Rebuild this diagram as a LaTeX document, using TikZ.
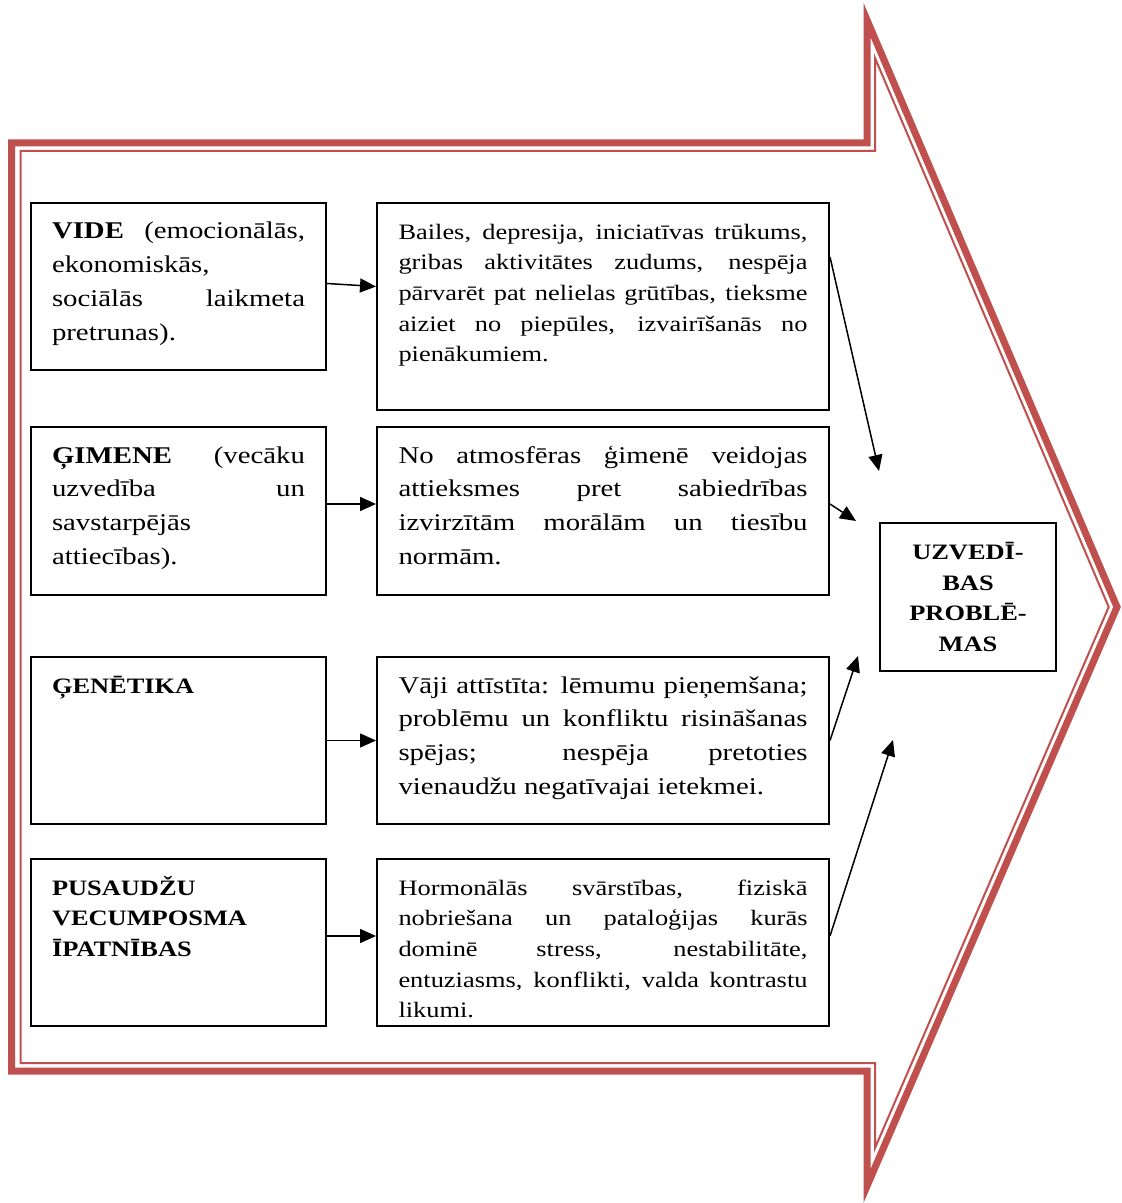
\documentclass[tikz,border=0pt]{standalone}
\usepackage{fontspec}
\setmainfont{Liberation Serif}[FakeStretch=1.2]
\usetikzlibrary{arrows.meta}
\definecolor{arrowred}{HTML}{C0504D}
\newcommand{\smalltxt}{\fontsize{11}{15.35}\selectfont}
\newcommand{\bigtxt}{\fontsize{12}{16.85}\selectfont}
\newcommand{\boxtext}[3]{\parbox[c][#1][t]{#2}{\sloppy\rule{0pt}{12pt}#3}}
\tikzset{
	leftbox/.style={draw, line width=1pt, anchor=north west, inner xsep=10.5pt, inner ysep=6pt},
	rightbox/.style={draw, line width=1pt, anchor=north west, inner xsep=10.75pt, inner ysep=6pt},
	resultbox/.style={draw, line width=1pt, anchor=north west, minimum width=88pt, minimum height=74pt, align=center, font=\smalltxt\bfseries},
	conn/.style={line width=0.75pt, -{Triangle[length=8pt,width=7pt]}},
	outerline/.style={draw=arrowred, line width=3.5pt, line join=miter},
	innerline/.style={draw=arrowred, line width=1pt, line join=miter}
}
\begin{document}
\begin{tikzpicture}[x=0.5pt, y=-0.5pt]
			%%%%% START %%%%%
			\useasboundingbox (0,0) rectangle (1121,1203);
			
			\draw[outerline] (11.5,143) -- (867,143) -- (867,20) -- (1117,607) -- (867,1186) -- (867,1071) -- (11.5,1071) -- cycle;
			\draw[innerline] (20.5,151) -- (875,151) -- (875,58) -- (1108.7,607) -- (875,1148) -- (875,1063) -- (20.5,1063) -- cycle;
			
			\node[leftbox, font=\bigtxt] (vide) at (30,202) {\boxtext{71.5pt}{126.5pt}{\textbf{VIDE} (emocionālās,\linebreak ekonomiskās,\\ sociālās laikmeta\linebreak pretrunas).}};
			\node[leftbox, font=\bigtxt] (gimene) at (30,426) {\boxtext{72pt}{126.5pt}{\textbf{ĢIMENE} (vecāku\linebreak uzvedība un\linebreak savstarpējās\\ attiecības).}};
			\node[leftbox, font=\smalltxt] (genetika) at (30,656) {\boxtext{71.5pt}{126.5pt}{\textbf{ĢENĒTIKA}}};
			\node[leftbox, font=\smalltxt] (pusaudzu) at (30,858) {\boxtext{71.5pt}{126.5pt}{\textbf{PUSAUDŽU\\ VECUMPOSMA\\ ĪPATNĪBAS}}};
			
			\node[rightbox, font=\smalltxt] (bailes) at (376,202) {\boxtext{91.5pt}{204.5pt}{Bailes, depresija, iniciatīvas trūkums,\linebreak gribas aktivitātes zudums, nespēja\linebreak pārvarēt pat nelielas grūtības, tieksme\linebreak aiziet no piepūles, izvairīšanās no\linebreak pienākumiem.}};
			\node[rightbox, font=\bigtxt] (atmosfera) at (376,426) {\boxtext{72pt}{204.5pt}{No atmosfēras ģimenē veidojas\linebreak attieksmes pret sabiedrības\linebreak izvirzītām morālām un tiesību\linebreak normām.}};
			\node[rightbox, font=\bigtxt] (vaji) at (376,656) {\boxtext{71.5pt}{204.5pt}{Vāji attīstīta: lēmumu pieņemšana;\linebreak problēmu un konfliktu risināšanas\linebreak spējas; nespēja pretoties\linebreak vienaudžu negatīvajai ietekmei.}};
			\node[rightbox, font=\smalltxt] (hormoni) at (376,858) {\boxtext{71.5pt}{204.5pt}{Hormonālās svārstības, fiziskā\linebreak nobriešana un pataloģijas kurās\linebreak dominē stress, nestabilitāte,\linebreak entuziasms, konflikti, valda kontrastu\linebreak likumi.}};
			
			\node[resultbox] (problemas) at (879,522) {UZVEDĪ-\\BAS\\PROBLĒ-\\MAS};
			
			\coordinate (t1) at (879,471);
			\coordinate (t2) at (856,521);
			\coordinate (t3) at (858,656);
			\coordinate (t4) at (893,740);
			
			\draw[conn] ([yshift=1.5pt]vide.east) -- (vide.east -| bailes.west);
			\draw[conn] ([yshift=3.5pt]gimene.east) -- ([yshift=3.5pt]atmosfera.west);
			\draw[conn] (genetika.east) -- (vaji.west);
			\draw[conn] ([yshift=3.25pt]pusaudzu.east) -- ([yshift=3.25pt]hormoni.west);
			
			\draw[conn] ([yshift=-27.5pt]bailes.north east) -- (t1);
			\draw[conn] ([yshift=3.5pt]atmosfera.east) -- (t2);
			\draw[conn] (vaji.east) -- (t3);
			\draw[conn] ([yshift=3.25pt]hormoni.east) -- (t4);
			
			%%%%% END %%%%%
\end{tikzpicture}
\end{document}
